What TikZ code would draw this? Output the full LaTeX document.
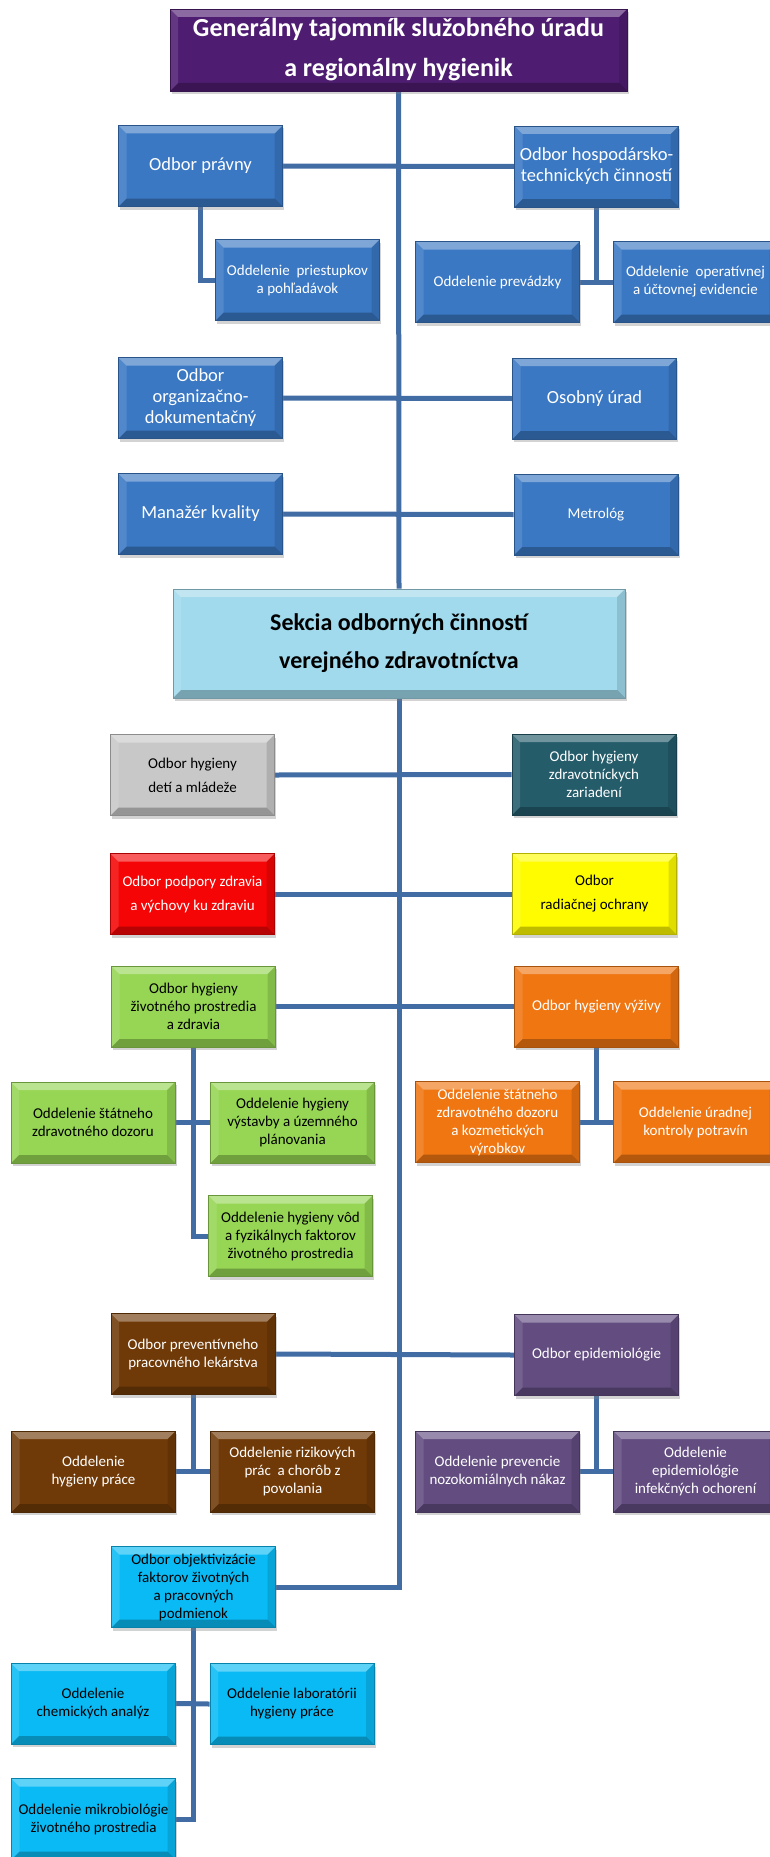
\documentclass[tikz,border=0pt]{standalone}
\usepackage{fontspec}
\setmainfont{Carlito}
\usetikzlibrary{shadows,backgrounds}

\definecolor{orgblue}{RGB}{58,120,196}
\definecolor{titlepurple}{RGB}{78,28,112}
\definecolor{sekciablue}{RGB}{160,218,236}
\definecolor{kidsgray}{RGB}{200,200,200}
\definecolor{zzteal}{RGB}{36,92,106}
\definecolor{promred}{RGB}{245,5,5}
\definecolor{radyellow}{RGB}{255,252,0}
\definecolor{envgreen}{RGB}{150,214,84}
\definecolor{foodorange}{RGB}{240,118,18}
\definecolor{occbrown}{RGB}{112,58,8}
\definecolor{epipurple}{RGB}{98,76,128}
\definecolor{objcyan}{RGB}{10,186,245}
\definecolor{linkblue}{RGB}{66,108,164}

\tikzset{
  bevel/.style={path picture={
    \path (path picture bounding box.north west) coordinate (pa)
          (path picture bounding box.north east) coordinate (pb)
          (path picture bounding box.south east) coordinate (pc)
          (path picture bounding box.south west) coordinate (pd);
    \fill[white,opacity=.35] (pa) -- (pb) -- ([shift={(-8pt,-8pt)}]pb) -- ([shift={(8pt,-8pt)}]pa) -- cycle;
    \fill[black,opacity=.25] (pd) -- (pc) -- ([shift={(-8pt,8pt)}]pc) -- ([shift={(8pt,8pt)}]pd) -- cycle;
    \fill[white,opacity=.12] (pa) -- (pd) -- ([shift={(8pt,8pt)}]pd) -- ([shift={(8pt,-8pt)}]pa) -- cycle;
    \fill[black,opacity=.12] (pb) -- (pc) -- ([shift={(-8pt,8pt)}]pc) -- ([shift={(-8pt,-8pt)}]pb) -- cycle;
  }},
  unit/.style={draw=#1!70!black, line width=0.6pt, fill=#1, bevel,
    minimum width=164pt, minimum height=81pt, inner sep=2pt, align=center,
    text=white, font=\fontsize{15}{18}\selectfont,
    drop shadow={shadow xshift=1.5pt, shadow yshift=-3pt, opacity=.35}},
  big/.style={font=\fontsize{18.5}{21}\selectfont},
  airy/.style={font=\fontsize{15}{24}\selectfont},
  dark/.style={text=black},
  link/.style={draw=linkblue, line width=5pt},
}

\begin{document}
\begin{tikzpicture}[x=1pt,y=-1pt]
\useasboundingbox (0,0) rectangle (770,1857);

% -------------------------------------------------
% Vedenie
% -------------------------------------------------
\node[unit=titlepurple, minimum width=457pt, minimum height=82pt,
      font=\fontsize{26}{40}\bfseries] (top) at (398.5,50)
  {Generálny tajomník služobného úradu\\a regionálny hygienik};

\node[unit=orgblue, big] (pravny) at (200.5,166) {Odbor právny};
\node[unit=orgblue, big] (hosp) at (596.5,166.5) {Odbor hospodársko-\\technických činností};
\node[unit=orgblue] (priest) at (297.5,280) {Oddelenie~ priestupkov\\a pohľadávok};
\node[unit=orgblue] (prevadz) at (497.5,282) {Oddelenie prevádzky};
\node[unit=orgblue] (operat) at (695.5,282) {Oddelenie~ operatívnej\\a účtovnej evidencie};
\node[unit=orgblue, big] (org) at (200.5,398) {Odbor\\organizačno-\\dokumentačný};
\node[unit=orgblue, big] (osobny) at (594.5,398.5) {Osobný úrad};
\node[unit=orgblue, big] (manazer) at (200.5,514) {Manažér kvality};
\node[unit=orgblue] (metrolog) at (596,514.5) {Metrológ};

% -------------------------------------------------
% Sekcia
% -------------------------------------------------
\node[unit=sekciablue, dark, minimum width=452pt, minimum height=109pt,
      font=\fontsize{24}{38}\bfseries] (sekcia) at (399,643.5)
  {Sekcia odborných činností\\verejného zdravotníctva};

% -------------------------------------------------
% Odbory sekcie
% -------------------------------------------------
\node[unit=kidsgray, dark, airy] (deti) at (192.5,775) {Odbor hygieny\\detí a mládeže};
\node[unit=zzteal] (zzar) at (594,774.5) {Odbor hygieny\\zdravotníckych\\zariadení};
\node[unit=promred, airy] (podpory) at (192.5,894) {Odbor podpory zdravia\\a výchovy ku zdraviu};
\node[unit=radyellow, dark, airy] (radiac) at (594.5,894) {Odbor\\radiačnej ochrany};
\node[unit=envgreen, dark] (zivprostr) at (193.5,1006.5) {Odbor hygieny\\životného prostredia\\a zdravia};
\node[unit=foodorange] (vyziva) at (596.5,1006.5) {Odbor hygieny výživy};

\node[unit=envgreen, dark] (stdoz) at (93,1122.5) {Oddelenie štátneho\\zdravotného dozoru};
\node[unit=envgreen, dark] (vystavby) at (292.5,1122.5) {Oddelenie hygieny\\výstavby a územného\\plánovania};
\node[unit=envgreen, dark] (vod) at (290.5,1236) {Oddelenie hygieny vôd\\a fyzikálnych faktorov\\životného prostredia};
\node[unit=foodorange] (kozm) at (497.5,1122) {Oddelenie štátneho\\zdravotného dozoru\\a kozmetických\\výrobkov};
\node[unit=foodorange] (uradnej) at (695.5,1122) {Oddelenie úradnej\\kontroly potravín};

\node[unit=occbrown] (prevlek) at (193,1354) {Odbor preventívneho\\pracovného lekárstva};
\node[unit=epipurple] (epid) at (596.5,1355) {Odbor epidemiológie};
\node[unit=occbrown] (hygprace) at (93.5,1471.5) {Oddelenie\\hygieny práce};
\node[unit=occbrown] (rizik) at (292.5,1471.5) {Oddelenie rizikových\\prác~ a chorôb z\\povolania};
\node[unit=epipurple] (nozok) at (497.5,1471.5) {Oddelenie prevencie\\nozokomiálnych nákaz};
\node[unit=epipurple] (infek) at (695.5,1471.5) {Oddelenie\\epidemiológie\\infekčných ochorení};

\node[unit=objcyan, dark] (objekt) at (193.5,1587) {Odbor objektivizácie\\faktorov životných\\a pracovných\\podmienok};
\node[unit=objcyan, dark] (chem) at (93,1703.5) {Oddelenie\\chemických analýz};
\node[unit=objcyan, dark] (labor) at (292,1704) {Oddelenie laboratórii\\hygieny práce};
\node[unit=objcyan, dark] (mikro) at (93.5,1819) {Oddelenie mikrobiológie\\životného prostredia};

% -------------------------------------------------
% Spojnice
% -------------------------------------------------
\begin{scope}[on background layer]
  \draw[link] (top.south) -- (sekcia.north);
  \draw[link] (sekcia.south) |- (objekt.east);
  \foreach \l/\r in {pravny/hosp, org/osobny, manazer/metrolog, deti/zzar,
                     podpory/radiac, zivprostr/vyziva, prevlek/epid,
                     prevadz/operat, stdoz/vystavby, kozm/uradnej,
                     hygprace/rizik, nozok/infek, chem/labor}
    \draw[link] (\l.east) -- (\r.west);
  \draw[link] (pravny.south) |- (priest.west);
  \draw[link] (hosp.south) -- (hosp.south |- prevadz.east);
  \draw[link] (zivprostr.south) |- (vod.west);
  \draw[link] (vyziva.south) -- (vyziva.south |- kozm.east);
  \draw[link] (prevlek.south) -- (prevlek.south |- hygprace.east);
  \draw[link] (epid.south) -- (epid.south |- nozok.east);
  \draw[link] (objekt.south) |- (mikro.east);
\end{scope}

\end{tikzpicture}
\end{document}
